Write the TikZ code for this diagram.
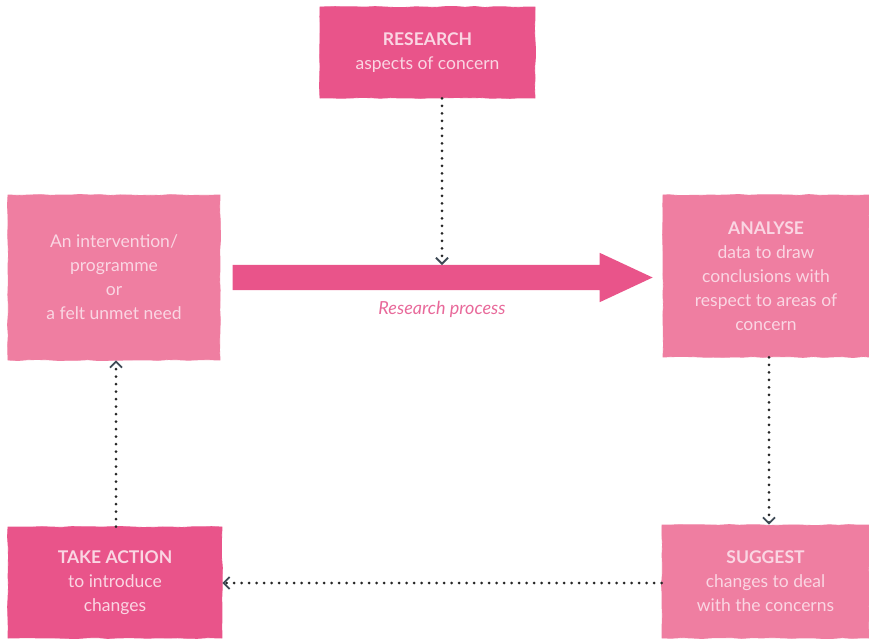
\documentclass[tikz,border=0pt]{standalone}
\usepackage{fontspec}
\setmainfont{Lato}
\usepackage{tikz}
\usetikzlibrary{arrows.meta, positioning, shapes.arrows, decorations.pathmorphing}
\definecolor{ARDeep}{RGB}{233, 84, 138}
\definecolor{ARSoft}{RGB}{239, 126, 161}
\definecolor{ARText}{RGB}{250, 214, 227}
\definecolor{ARLabel}{RGB}{232, 105, 154}
\definecolor{ARTip}{RGB}{62, 74, 85}

\tikzset{
  roughbox/.style={draw=#1, fill=#1, line width=0.8pt,
    decorate, decoration={random steps, segment length=10pt, amplitude=0.5pt},
    text=ARText, align=center, inner sep=4pt,
    font=\fontsize{17.5}{24}\selectfont},
  loop/.style={line width=3pt, line cap=round, dash pattern=on 0pt off 7.5pt, draw=black!85,
    -{Straight Barb[length=6pt, width=12pt, line width=1.8pt, line cap=butt, color=ARTip]}},
}

\begin{document}
\begin{tikzpicture}[x=1pt, y=-1pt]
    \pgfmathsetseed{7}
    \path[use as bounding box] (0,0) rectangle (869,638);
    % boxes of the cycle
    \node[roughbox=ARDeep, minimum width=215pt, minimum height=91pt] (research) at (427.5,52.5)
      {\textbf{RESEARCH}\\aspects of concern};
    \node[roughbox=ARSoft, minimum width=212pt, minimum height=165pt] (need) at (114,277.5)
      {An intervention/\\programme\\or\\a felt unmet need};
    \node[roughbox=ARSoft, minimum width=206pt, minimum height=162pt] (analyse) at (766,276)
      {\textbf{ANALYSE}\\data to draw\\conclusions with\\respect to areas of\\concern};
    \node[roughbox=ARSoft, minimum width=207pt, minimum height=113pt] (suggest) at (765.5,581.5)
      {\textbf{SUGGEST}\\changes to deal\\with the concerns};
    \node[roughbox=ARDeep, minimum width=214pt, minimum height=111pt] (action) at (115,582.5)
      {\textbf{TAKE ACTION}\\to introduce\\changes};
    % research process arrow
    \node[single arrow, fill=ARDeep, inner sep=12.5pt, minimum width=49pt, minimum height=420pt,
      single arrow head extend=12pt, single arrow tip angle=50] (flow) at (429,277.5) {};
    \coordinate (flowtop) at (442,265);
    \node[text=ARLabel, font=\fontsize{18}{20}\selectfont\itshape] (flowlabel) at (442,309) {Research process};
    % dotted connectors
    \draw[loop] (research.south -| flowtop) -- (flowtop);
    \draw[loop] (analyse.south -| 769,0) -- (suggest.north -| 769,0);
    \draw[loop] (suggest.west |- 0,583) -- (action.east |- 0,583);
    \draw[loop] (action.north -| 116,0) -- (need.south -| 116,0);
\end{tikzpicture}
\end{document}
